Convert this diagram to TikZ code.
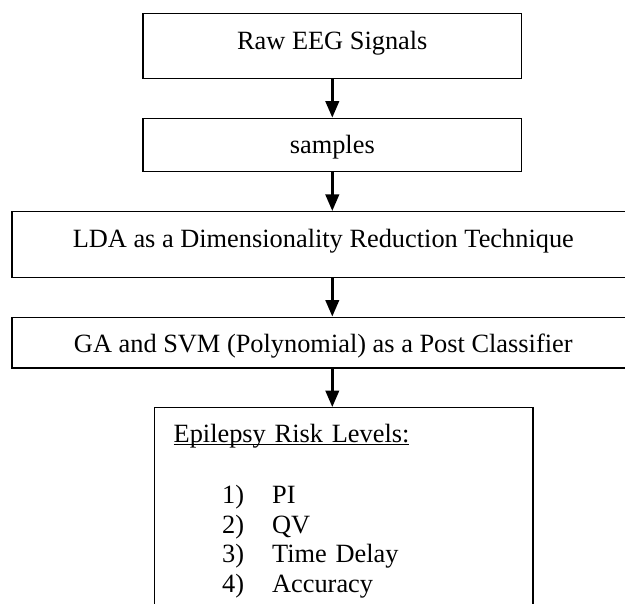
\documentclass[tikz,border=0pt]{standalone}
\usepackage{fontspec}
\setmainfont{Liberation Serif}
\usepackage{tikz}
\usetikzlibrary{positioning,arrows.meta}

\newcommand{\risklevel}[2]{\hspace*{0.97cm}\makebox[1.0cm][l]{#1}#2}
\newcommand{\riskhead}[1]{\underline{\smash{#1}}}

\begin{document}
\begin{tikzpicture}[
  box/.style={draw, line width=0.8pt, align=center, font=\fontsize{15}{16.8}\selectfont, inner xsep=4pt, inner ysep=0pt, text height=0.712cm},
  smallbox/.style={box, minimum width=7.57cm},
  widebox/.style={box, minimum width=12.45cm},
  riskbox/.style={draw, line width=0.8pt, align=left, font=\fontsize{15}{16.8}\selectfont, text width=6.8cm, inner xsep=0.386cm, inner ysep=0pt},
  arr/.style={-{Triangle[length=0.33cm, width=0.27cm]}, line width=1.4pt}
]
\useasboundingbox (0,0) rectangle (12.5,-12.06);

\node[smallbox, text depth=0.588cm, anchor=north] (n1) at (6.646,-0.254) {Raw EEG Signals};
\node[smallbox, text depth=0.356cm, below=0.77cm of n1] (n2) {samples};
\node[widebox, text depth=0.602cm, below=0.77cm of n2, xshift=-0.18cm] (n3) {LDA as a Dimensionality Reduction Technique};
\node[widebox, text depth=0.3cm, below=0.77cm of n3] (n4) {GA and SVM (Polynomial) as a Post Classifier};
\node[riskbox, below=0.77cm of n4, xshift=0.407cm] (n5) {\rule{0pt}{0.686cm}\riskhead{Epilepsy Risk Levels:}\rule[-0.15cm]{0pt}{1pt}\\[0.647cm]
  \risklevel{1)}{PI}\\
  \risklevel{2)}{QV}\\
  \risklevel{3)}{Time Delay}\\
  \risklevel{4)}{Accuracy}\rule[-1cm]{0pt}{1pt}};

\draw[arr] (n1) -- (n2);
\draw[arr] (n2) -- (n3.north -| n2);
\draw[arr] (n3.south -| n2) -- (n4.north -| n2);
\draw[arr] (n4.south -| n2) -- (n5.north -| n2);
\end{tikzpicture}
\end{document}
